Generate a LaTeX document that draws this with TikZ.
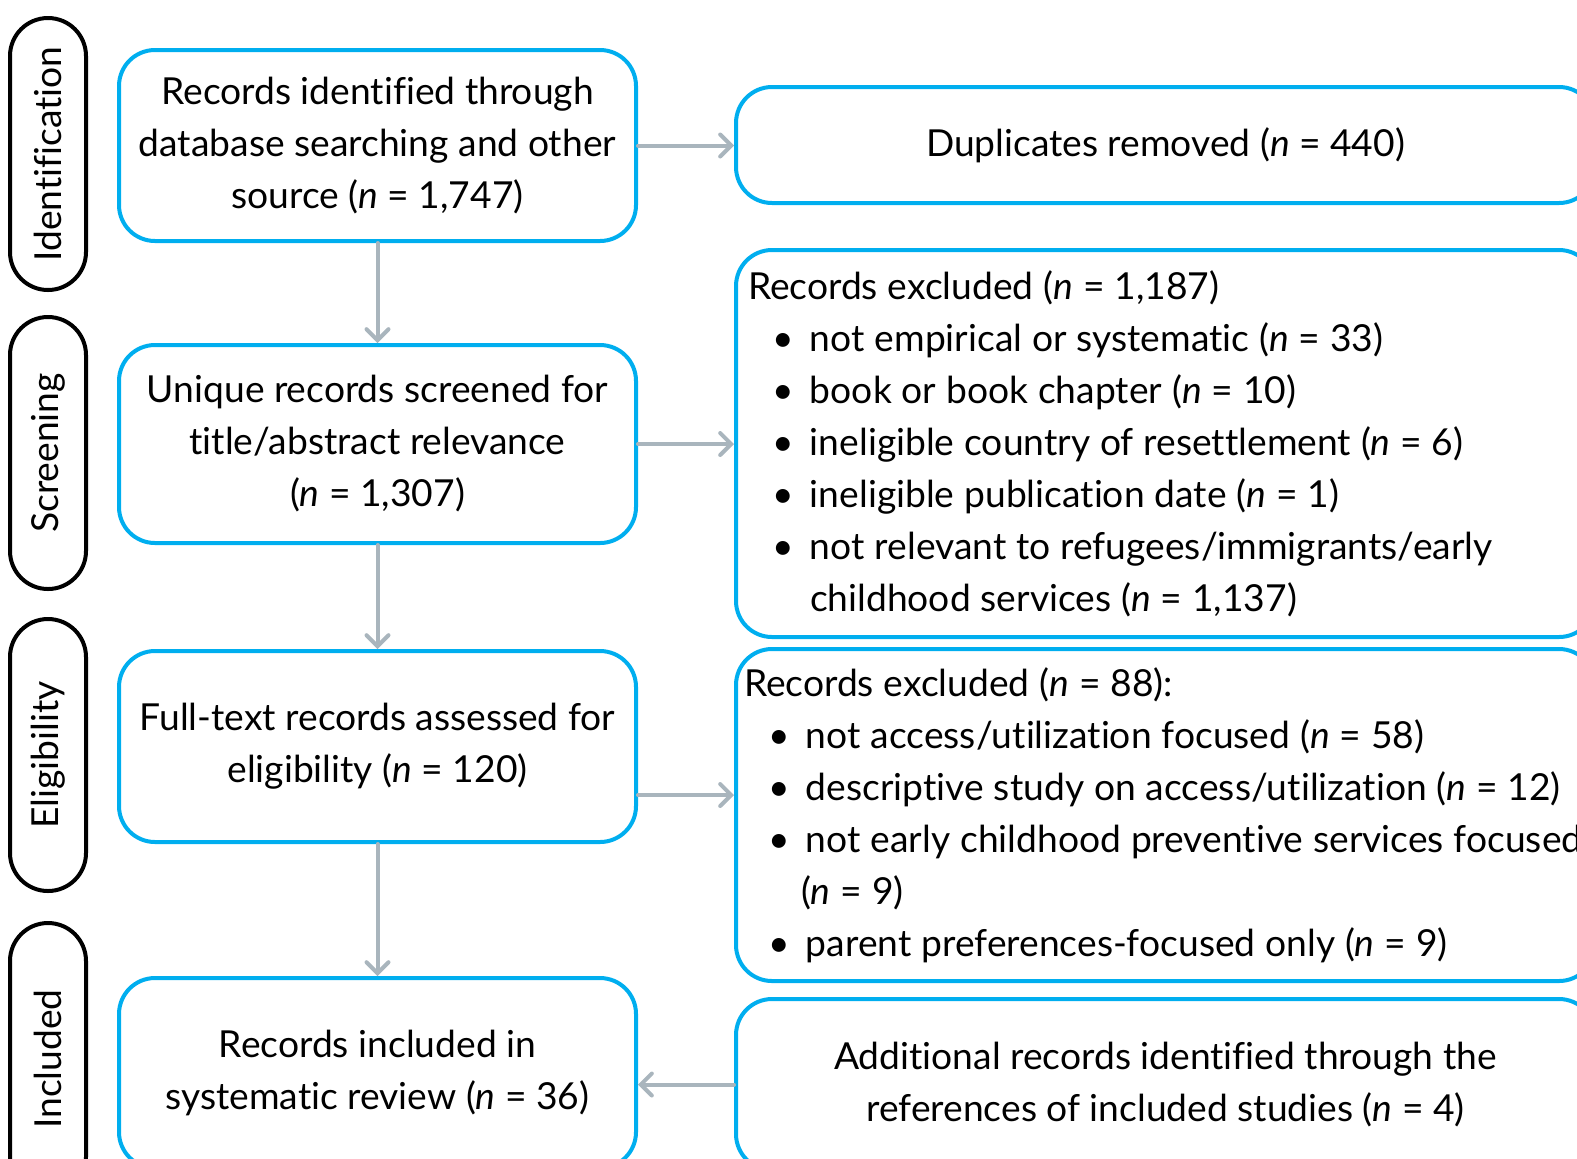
\documentclass[tikz,border=0pt]{standalone}
\usepackage{fontspec}
\setmainfont{Lato}[Ligatures={NoCommon}]
\usetikzlibrary{arrows.meta}
\definecolor{boxblue}{HTML}{00AEEF}
\definecolor{arrgrey}{HTML}{A9B5BD}
\newcommand\plinebox[1]{\mbox{\spaceskip=4.95pt\relax #1}}
\newcommand\pbul[1]{\plinebox{\hspace*{12pt}\makebox[19pt][l]{\textbullet}#1}}
\newcommand\pcont[2]{\plinebox{\hspace*{#1}#2}}
\begin{document}
\begin{tikzpicture}[x=0.5pt,y=-0.5pt,
  every node/.style={font=\fontsize{18.6}{26}\selectfont, inner sep=0pt},
  bluebox/.style={draw=boxblue, line width=2pt, rounded corners=18pt},
  leftbox/.style={bluebox, minimum width=258.5pt, align=center},
  rightbox/.style={bluebox, minimum width=429.5pt, align=center},
  listbox/.style={bluebox, minimum width=429.5pt, text width=417.5pt, align=left},
  pill/.style={draw=black, line width=2pt, rounded corners=19pt, minimum width=136pt, minimum height=38pt, rotate=90},
  arr/.style={draw=arrgrey, line width=2pt, line cap=round, -{Straight Barb[length=5.5pt,width=11pt,line cap=round]}}
]
\clip (0,0) rectangle (1577,1158);
% phase labels
\node[pill] (pid) at (48,154) {Identification};
\node[pill] (psc) at (48,453) {Screening};
\node[pill] (pel) at (48,755) {Eligibility};
\node[pill] (pin) at (48,1059) {Included};
% left column
\node[leftbox, minimum height=95.5pt] (b1) at (377.5,145.5) {Records identified through\\database searching and other\\source (\textit{n} = 1,747)};
\node[leftbox, minimum height=99pt] (b2) at (377.5,444) {Unique records screened for\\title/abstract relevance\\(\textit{n} = 1,307)};
\node[leftbox, minimum height=95.5pt] (b3) at (377.5,746.5) {Full-text records assessed for\\eligibility (\textit{n} = 120)};
\node[leftbox, minimum height=95pt] (b4) at (377.5,1073) {Records included in\\systematic review (\textit{n} = 36)};
% right column
\node[rightbox, minimum height=58pt] (r1) at (1165.5,145) {Duplicates removed (\textit{n} = 440)};
\node[listbox, minimum height=193.5pt] (r2) at (1165.5,443.5) {%
\plinebox{Records excluded (\textit{n} = 1,187)}\\
\pbul{not empirical or systematic (\textit{n} = 33)}\\
\pbul{book or book chapter (\textit{n} = 10)}\\
\pbul{ineligible country of resettlement (\textit{n} = 6)}\\
\pbul{ineligible publication date (\textit{n} = 1)}\\
\pbul{not relevant to refugees/immigrants/early}\\
\pcont{31pt}{childhood services (\textit{n} = 1,137)}};
\node[listbox, minimum height=166pt, text width=421.5pt] (r3) at (1165.5,815) {%
\plinebox{Records excluded (\textit{n} = 88):}\\
\pbul{not access/utilization focused (\textit{n} = 58)}\\
\pbul{descriptive study on access/utilization (\textit{n} = 12)}\\
\pbul{not early childhood preventive services focused}\\
\pcont{28.5pt}{(\textit{n} = 9)}\\
\pbul{parent preferences-focused only (\textit{n} = 9)}};
\node[rightbox, minimum height=85.5pt] (r4) at (1165.5,1084.5) {Additional records identified through the\\references of included studies (\textit{n} = 4)};
% connectors
\draw[arr] (b1.south) -- (b2.north);
\draw[arr] (b2.south) -- (b3.north);
\draw[arr] (b3.south) -- (b4.north);
\draw[arr] (b1.east) -- (b1.east -| r1.west);
\draw[arr] (b2.east) -- (b2.east -| r2.west);
\draw[arr] ([yshift=-24.25pt]b3.east) -- ([yshift=-24.25pt]b3.east -| r3.west);
\draw[arr] (r4.west) -- (r4.west -| b4.east);
\end{tikzpicture}
\end{document}
